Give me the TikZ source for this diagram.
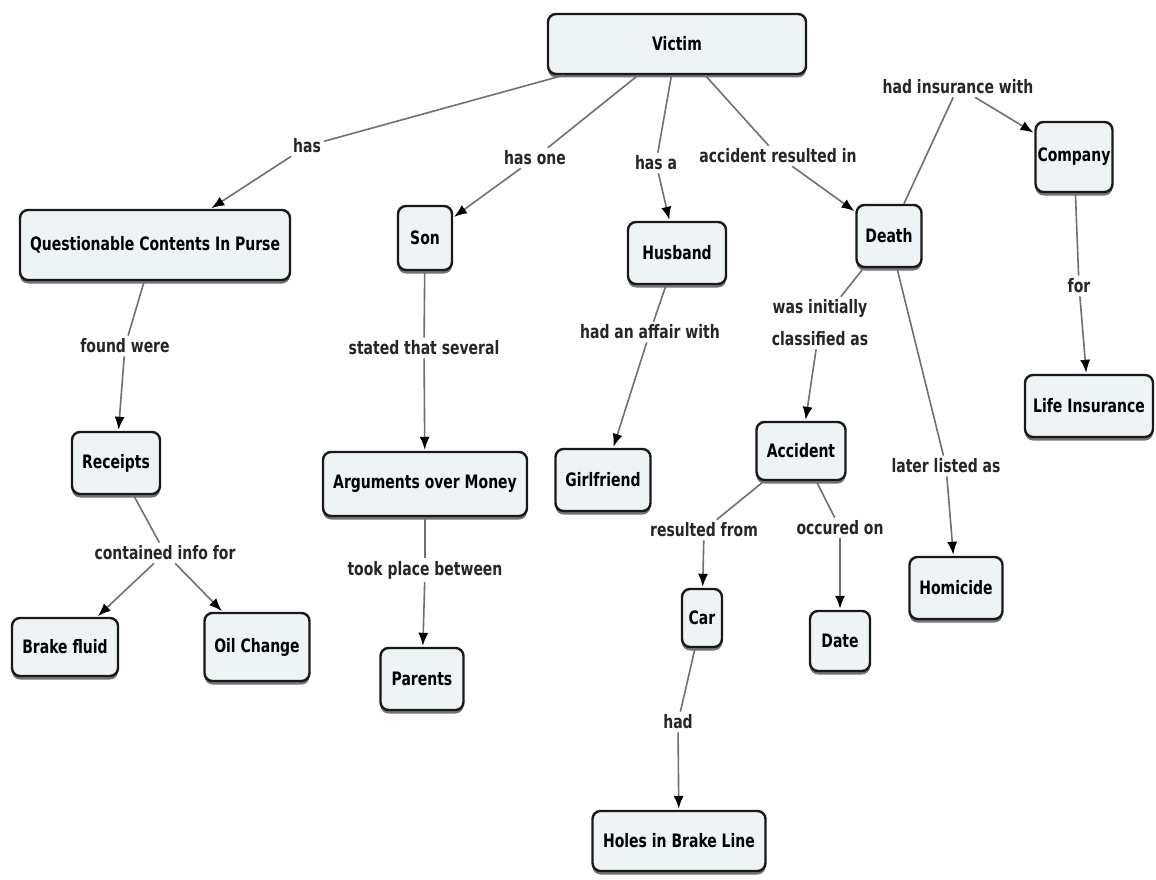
\documentclass[tikz,border=0pt]{standalone}
\usepackage{fontspec}
\setmainfont{DejaVu Sans Condensed}[FakeStretch=0.84]
\usetikzlibrary{arrows.meta,shadows}
\definecolor{conceptfill}{HTML}{EEF3F5}
\definecolor{linkgray}{HTML}{707070}
\tikzset{
  concept/.style={draw=black!90, line width=2.4pt, rounded corners=8pt, fill=conceptfill,
    font=\bfseries\fontsize{18.5}{20}\selectfont, inner sep=2pt,
    drop shadow={shadow xshift=0pt, shadow yshift=-3.5pt, fill=black!55, opacity=1}},
  linklabel/.style={font=\bfseries\fontsize{18.5}{20}\selectfont, inner sep=3pt, align=center, text=black!85},
  link/.style={draw=linkgray, line width=1.6pt},
  arrowlink/.style={link, -{Latex[length=13pt,width=10pt,color=black]}, shorten >=1pt},
}
\begin{document}
\begin{tikzpicture}[x=1pt,y=-1pt]
\useasboundingbox[fill=white] (0,0) rectangle (1156,880);
% concepts
\node[concept, minimum width=258, minimum height=60] (victim) at (677,44) {Victim};
\node[concept, minimum width=270, minimum height=70] (purse) at (155,245) {Questionable Contents In Purse};
\node[concept, minimum width=54, minimum height=64] (son) at (425,238) {Son};
\node[concept, minimum width=98, minimum height=62] (husband) at (677,253) {Husband};
\node[concept, minimum width=65, minimum height=62] (death) at (889,236) {Death};
\node[concept, minimum width=70, minimum height=70] (company) at (1074,157) {Company};
\node[concept, minimum width=88, minimum height=62] (receipts) at (116,463) {Receipts};
\node[concept, minimum width=204, minimum height=64] (args) at (425,484) {Arguments over Money};
\node[concept, minimum width=95, minimum height=62] (girl) at (603,480) {Girlfriend};
\node[concept, minimum width=89, minimum height=58] (accident) at (801,451) {Accident};
\node[concept, minimum width=128, minimum height=62] (life) at (1089,406) {Life Insurance};
\node[concept, minimum width=93, minimum height=62] (homicide) at (956,588) {Homicide};
\node[concept, minimum width=106, minimum height=58] (brake) at (65,647) {Brake fluid};
\node[concept, minimum width=105, minimum height=68] (oil) at (257,647) {Oil Change};
\node[concept, minimum width=83, minimum height=62] (parents) at (422,679) {Parents};
\node[concept, minimum width=40, minimum height=58] (car) at (702,618) {Car};
\node[concept, minimum width=60, minimum height=60] (date) at (840,641) {Date};
\node[concept, minimum width=173, minimum height=60] (holes) at (679,841) {Holes in Brake Line};
% labels
\node[linklabel] (lhas) at (307,146) {has};
\node[linklabel] (lhasone) at (535,158) {has one};
\node[linklabel] (lhasa) at (656,163) {has a};
\node[linklabel] (lacc) at (778,156) {accident resulted in};
\node[linklabel] (lins) at (958,87) {had insurance with};
\node[linklabel] (lfor) at (1079,286) {for};
\node[linklabel] (lfound) at (125,346) {found were};
\node[linklabel] (lstated) at (424,348) {stated that several};
\node[linklabel] (laffair) at (650,332) {had an affair with};
\node[linklabel] (lclass) at (820,323) {was initially\\[12pt]classified as};
\node[linklabel] (llater) at (946,466) {later listed as};
\node[linklabel] (lcont) at (165,553) {contained info for};
\node[linklabel] (lresult) at (704,530) {resulted from};
\node[linklabel] (locc) at (840,528) {occured on};
\node[linklabel] (ltook) at (425,570) {took place between};
\node[linklabel] (lhad) at (678,722) {had};
% connectors
\draw[link] (victim) -- (lhas); \draw[arrowlink] (lhas) -- (purse);
\draw[link] (victim) -- (lhasone); \draw[arrowlink] (lhasone) -- (son);
\draw[link] (victim) -- (lhasa); \draw[arrowlink] (lhasa) -- (husband);
\draw[link] (victim) -- (lacc); \draw[arrowlink] (lacc) -- (death);
\draw[link] (death) -- (lins); \draw[arrowlink] (lins) -- (company);
\draw[link] (company) -- (lfor); \draw[arrowlink] (lfor) -- (life);
\draw[link] (purse) -- (lfound); \draw[arrowlink] (lfound) -- (receipts);
\draw[link] (son) -- (lstated); \draw[arrowlink] (lstated) -- (args);
\draw[link] (args) -- (ltook); \draw[arrowlink] (ltook) -- (parents);
\draw[link] (husband) -- (laffair); \draw[arrowlink] (laffair) -- (girl);
\draw[link] (death) -- (lclass); \draw[arrowlink] (lclass) -- (accident);
\draw[link] (death) -- (llater); \draw[arrowlink] (llater) -- (homicide);
\draw[link] (receipts) -- (lcont); \draw[arrowlink] (lcont) -- (brake); \draw[arrowlink] (lcont) -- (oil);
\draw[link] (accident) -- (lresult); \draw[arrowlink] (lresult) -- (car);
\draw[link] (accident) -- (locc); \draw[arrowlink] (locc) -- (date);
\draw[link] (car) -- (lhad); \draw[arrowlink] (lhad) -- (holes);
\end{tikzpicture}
\end{document}
